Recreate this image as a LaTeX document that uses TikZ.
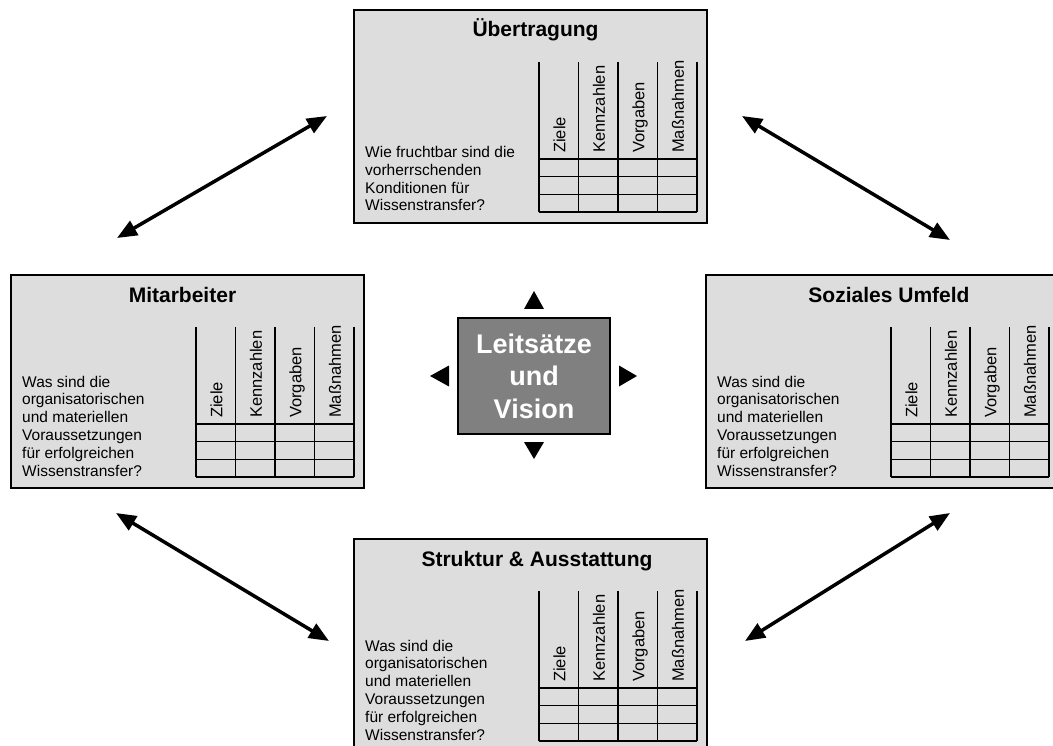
\documentclass[tikz,border=0pt]{standalone}
\usepackage{fontspec}
\setmainfont{Liberation Sans}
\usetikzlibrary{arrows.meta}

\definecolor{panelgray}{HTML}{DDDDDD}
\definecolor{coregray}{HTML}{808080}

% One field panel: #1 name, #2 left, #3 top, #4 title centre (from left edge),
% #5 title, #6 guiding question
\newcommand\fieldpanel[6]{%
  \node[panel] (#1) at (#2,#3) {};
  \begin{scope}[shift={(#1.north west)}]
    \node[paneltitle] (#1-title) at (#4,28) {#5};
    \node[question] (#1-question) at (12,202) {#6};
    \foreach \cx in {186,225.5,265,304.5,344}
      \draw[gridline] (\cx,53) -- (\cx,203);
    \foreach \ry in {150,167.7,185.3,203}
      \draw[gridline] (186,\ry) -- (344,\ry);
    \foreach \lab/\cx [count=\k] in {Ziele/205.75,Kennzahlen/245.25,Vorgaben/284.75,Maßnahmen/324.25}
      \node[collabel] (#1-col\k) at (\cx+6.5,144) {\lab};
  \end{scope}
}

\begin{document}
\begin{tikzpicture}[x=1pt,y=-1pt,
  panel/.style={draw=black, line width=2pt, fill=panelgray,
    minimum width=353pt, minimum height=213pt, anchor=north west, inner sep=0pt},
  paneltitle/.style={font=\bfseries\fontsize{21}{25}\selectfont, anchor=base, inner sep=0pt},
  question/.style={font=\fontsize{15.5}{17.8}\selectfont, align=left,
    anchor=base west, inner sep=0pt},
  gridline/.style={line width=1.3pt},
  collabel/.style={font=\fontsize{16.5}{19}\selectfont, rotate=90,
    anchor=base west, inner sep=0pt},
  core/.style={draw=black, line width=2pt, fill=coregray, text=white,
    minimum width=152pt, minimum height=116pt, align=center,
    font=\bfseries\fontsize{27}{32.5}\selectfont},
  link/.style={line width=3.5pt,
    {Triangle[length=20pt,width=16pt]}-{Triangle[length=20pt,width=16pt]}},
  marker/.style={fill=black}]

\useasboundingbox (0,0) rectangle (1053,746);
\clip (0,0) rectangle (1053,746);

% four fields
\fieldpanel{trans}{353}{9}{182.5}{Übertragung}
  {Wie fruchtbar sind die\\vorherrschenden\\Konditionen für\\Wissenstransfer?}
\fieldpanel{staff}{10}{274}{172.5}{Mitarbeiter}
  {Was sind die\\organisatorischen\\und materiellen\\Voraussetzungen\\für erfolgreichen\\Wissenstransfer?}
\fieldpanel{social}{705}{274}{184}{Soziales Umfeld}
  {Was sind die\\organisatorischen\\und materiellen\\Voraussetzungen\\für erfolgreichen\\Wissenstransfer?}
\fieldpanel{struct}{353}{538}{184}{Struktur \& Ausstattung}
  {Was sind die\\organisatorischen\\und materiellen\\Voraussetzungen\\für erfolgreichen\\Wissenstransfer?}

% centre
\node[core] (core) at (534,376) {Leitsätze\\und\\Vision};

% outward markers around the centre
\fill[marker] ([shift={(-10,-8)}]core.north) -- ([shift={(10,-8)}]core.north)
  -- ([shift={(0,-26)}]core.north) -- cycle;
\fill[marker] ([shift={(-10,7)}]core.south) -- ([shift={(10,7)}]core.south)
  -- ([shift={(0,24)}]core.south) -- cycle;
\fill[marker] ([shift={(-8,-10.5)}]core.west) -- ([shift={(-8,10.5)}]core.west)
  -- ([shift={(-27,0)}]core.west) -- cycle;
\fill[marker] ([shift={(8,-10.5)}]core.east) -- ([shift={(8,10.5)}]core.east)
  -- ([shift={(26,0)}]core.east) -- cycle;

% links between neighbouring fields
\coordinate (staff-up) at (117,238);
\coordinate (trans-left) at (327,116);
\coordinate (trans-right) at (742,116);
\coordinate (social-up) at (950,240);
\coordinate (staff-down) at (116,513);
\coordinate (struct-left) at (329,641);
\coordinate (struct-right) at (745,641);
\coordinate (social-down) at (950,513);

\draw[link] (staff-up) -- (trans-left);
\draw[link] (trans-right) -- (social-up);
\draw[link] (staff-down) -- (struct-left);
\draw[link] (struct-right) -- (social-down);
\end{tikzpicture}
\end{document}
